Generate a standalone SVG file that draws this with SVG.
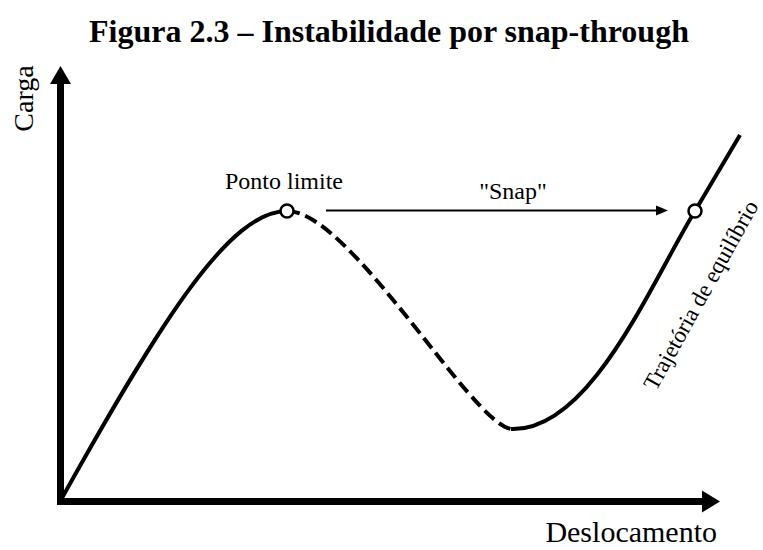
<svg xmlns="http://www.w3.org/2000/svg" width="763" height="550" viewBox="0 0 763 550">
<defs>
<style>
text{font-family:'Liberation Serif','Times New Roman','DejaVu Serif',serif;fill:#000}
.axis{stroke:#000;stroke-width:7;fill:none}
.curve{stroke:#000;stroke-width:4;fill:none;stroke-linecap:butt}
.dash{stroke-dasharray:13 6}
.pt{fill:#fff;stroke:#000;stroke-width:2.5}
</style>
</defs>
<rect width="763" height="550" fill="#fff"/>
<text x="389" y="42" text-anchor="middle" font-size="32" font-weight="bold">Figura 2.3 – Instabilidade por snap-through</text>
<g id="axes">
<line class="axis" x1="60.5" y1="505" x2="60.5" y2="83"/>
<polygon points="60.5,66 50,84 71,84"/>
<line class="axis" x1="57" y1="501.5" x2="703" y2="501.5"/>
<polygon points="720,501.5 702,490.5 702,512.5"/>
</g>
<g id="labels">
<text transform="translate(33,98.5) rotate(-90)" text-anchor="middle" font-size="28">Carga</text>
<text x="717" y="542" text-anchor="end" font-size="30">Deslocamento</text>
<text x="284" y="189" text-anchor="middle" font-size="24">Ponto limite</text>
<text x="513" y="199" text-anchor="middle" font-size="24">"Snap"</text>
<text transform="translate(759,206) rotate(-61)" text-anchor="end" font-size="23">Trajetória de equilíbrio</text>
</g>
<g id="connectors">
<path class="curve" d="M62,498 C162,319 230,211 287,211"/>
<path class="curve dash" d="M287,211 C350,211 470,422 511,429"/>
<path class="curve" d="M511,429 C590,432 650,285 695,211 L740,135"/>
<line x1="326" y1="210.5" x2="657" y2="210.5" stroke="#000" stroke-width="2"/>
<polygon points="668,210.5 656,205.5 656,215.5"/>
</g>
<g id="node-limit"><circle class="pt" cx="287" cy="211" r="6.5"/></g>
<g id="node-snap"><circle class="pt" cx="695" cy="211" r="6.5"/></g>
</svg>
